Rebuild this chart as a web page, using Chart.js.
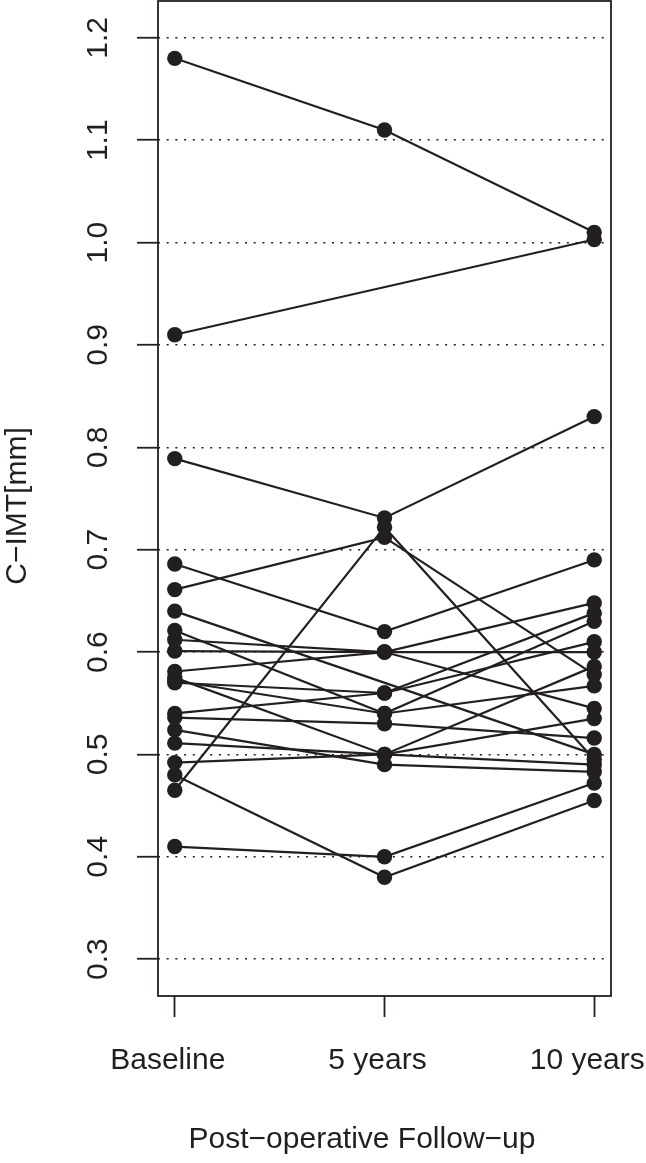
<!DOCTYPE html>
<html>
<head>
<meta charset="utf-8">
<script src="https://cdn.jsdelivr.net/npm/chart.js@4.4.0/dist/chart.umd.min.js"></script>
<style>
html, body { margin: 0; padding: 0; background: #fff; }
</style>
</head>
<body>
<canvas id="lineChart" width="646" height="1163"></canvas>
<script>
// time points on the x axis
var timepoints = ["Baseline", "5 years", "10 years"];
var timeX = [1, 2, 3];

// one entry per patient, null = no measurement at that visit
var baseline  = [1.18, 0.91, 0.789, 0.686, 0.661, 0.465, 0.640, 0.612, 0.601, 0.621, 0.581, 0.570, 0.572, 0.575, 0.540, 0.536, 0.524, 0.511, 0.492, 0.480, 0.410];
var fiveYears = [1.11, null, 0.731, 0.620, 0.712, 0.722, null,  0.600, 0.600, 0.540, 0.600, 0.560, 0.540, 0.500, 0.560, 0.530, 0.490, 0.500, 0.500, 0.380, 0.400];
var tenYears  = [1.01, 1.003, 0.830, 0.690, 0.578, 0.495, 0.500, 0.600, 0.648, 0.630, 0.545, 0.610, 0.567, 0.586, 0.638, 0.516, 0.483, 0.535, 0.490, 0.455, 0.472];

var yTicks = [0.3, 0.4, 0.5, 0.6, 0.7, 0.8, 0.9, 1.0, 1.1, 1.2];

var INK = "#231f20";
var FONT = "'Liberation Sans', Arial, sans-serif";

var datasets = [];
for (var i = 0; i < baseline.length; i++) {
    var vals = [baseline[i], fiveYears[i], tenYears[i]];
    var pts = [];
    for (var j = 0; j < vals.length; j++) {
        pts.push({ x: timeX[j], y: vals[j] });
    }
    datasets.push({
        label: "patient " + (i + 1),
        data: pts,
        borderColor: INK,
        backgroundColor: INK,
        borderWidth: 2.2,
        pointRadius: 7.7,
        pointBorderWidth: 0,
        pointBackgroundColor: INK,
        spanGaps: true,
        tension: 0
    });
}

// frame round the plot region, like R's box()
var boxPlugin = {
    id: "box",
    afterDraw: function (chart) {
        var a = chart.chartArea;
        var ctx = chart.ctx;
        ctx.save();
        ctx.strokeStyle = INK;
        ctx.lineWidth = 1.8;
        ctx.strokeRect(a.left, a.top, a.right - a.left, a.bottom - a.top);
        ctx.restore();
    }
};

// fixed axis sizes, no extra room for overflowing labels
function fixSize(scale, w, h) {
    if (w) scale.width = w;
    if (h) scale.height = h;
    scale.paddingLeft = 0;
    scale.paddingRight = 0;
    scale.paddingTop = 0;
    scale.paddingBottom = 0;
}

Chart.defaults.font.family = FONT;
Chart.defaults.color = INK;

new Chart(document.getElementById("lineChart"), {
    type: "line",
    data: { datasets: datasets },
    options: {
        responsive: false,
        animation: false,
        events: [],
        layout: { autoPadding: false, padding: { left: 0, right: 35, top: 1, bottom: 0 } },
        plugins: {
            legend: { display: false },
            tooltip: { enabled: false }
        },
        scales: {
            x: {
                type: "linear",
                min: 0.92,
                max: 3.08,
                afterBuildTicks: function (scale) {
                    scale.ticks = timeX.map(function (v) { return { value: v }; });
                },
                afterFit: function (scale) { fixSize(scale, 0, 167); },
                border: { display: false },
                grid: {
                    drawOnChartArea: false,
                    drawTicks: true,
                    tickLength: 21,
                    tickWidth: 1.8,
                    tickColor: INK
                },
                ticks: {
                    padding: 26,
                    labelOffset: -7,
                    maxRotation: 0,
                    font: { size: 30 },
                    callback: function (v) { return timepoints[v - 1]; }
                },
                title: {
                    display: true,
                    // trailing spaces nudge the title a bit left, as in the source
                    text: "Post\u2212operative Follow\u2212up\u2003\u2002",
                    font: { size: 30 },
                    padding: { top: 5, bottom: 5 }
                }
            },
            y: {
                type: "linear",
                min: 0.264,
                max: 1.236,
                afterBuildTicks: function (scale) {
                    scale.ticks = yTicks.map(function (v) { return { value: v }; });
                },
                afterFit: function (scale) { fixSize(scale, 158, 0); },
                border: { display: false, dash: [2, 6.7] },
                grid: {
                    color: INK,
                    lineWidth: 1.5,
                    drawTicks: true,
                    tickLength: 21,
                    tickWidth: 1.8,
                    tickColor: INK,
                    tickBorderDash: []
                },
                ticks: {
                    padding: 17,
                    minRotation: 90,
                    maxRotation: 90,
                    crossAlign: "center",
                    font: { size: 30 },
                    callback: function (v) { return v.toFixed(1); }
                },
                title: {
                    display: true,
                    text: "C\u2212IMT[mm]\u2002",
                    font: { size: 30 },
                    padding: { top: 0, bottom: 0 }
                }
            }
        }
    },
    plugins: [boxPlugin]
});
</script>
</body>
</html>
